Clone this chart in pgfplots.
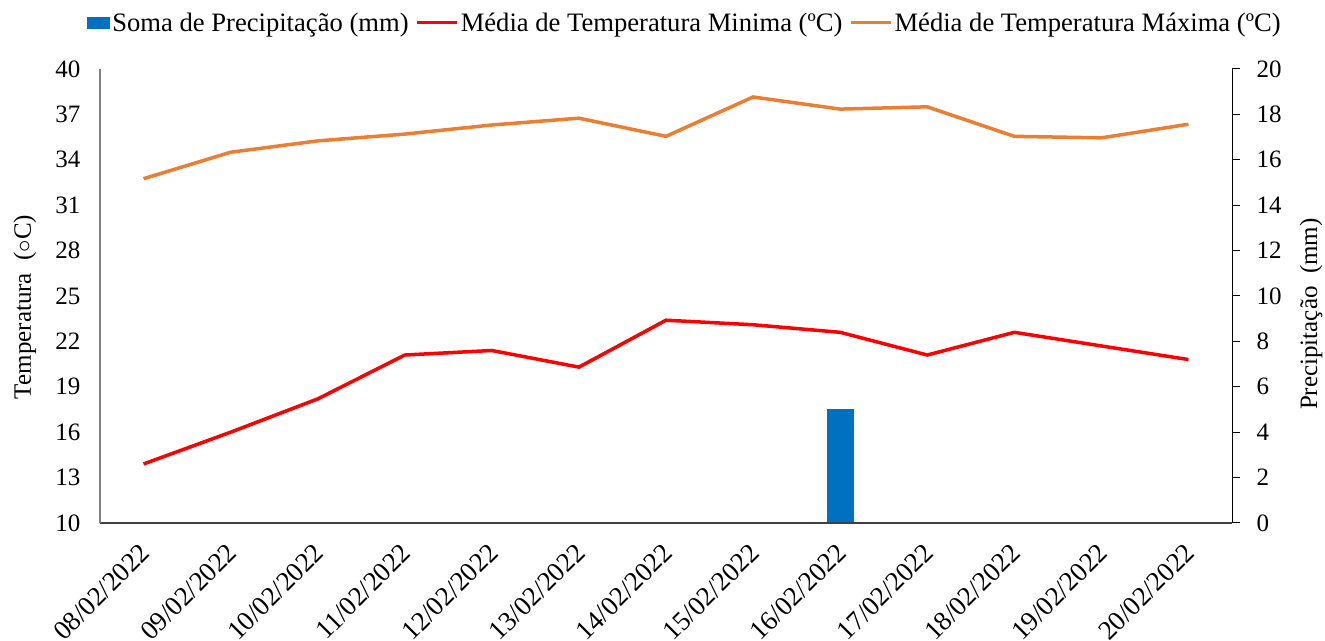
\documentclass[border=0pt]{standalone}
\usepackage{fontspec}
\setmainfont{Liberation Serif}
\usepackage{pgfplots}
\usepackage{pgfplotstable}
\pgfplotsset{compat=1.18}
\usetikzlibrary{calc}
\definecolor{cblue}{HTML}{0070C0}
\definecolor{cred}{HTML}{FF0000}
\definecolor{corange}{HTML}{ED7D31}
\definecolor{axgray}{HTML}{808080}
\definecolor{axdark}{HTML}{404040}

\pgfplotsset{
  redleg/.style={legend image code/.code={\draw[cred, line width=3.2pt] (0pt,0pt) -- (40pt,0pt);}},
  orangeleg/.style={legend image code/.code={\draw[corange, line width=3.2pt] (0pt,0pt) -- (40pt,0pt);}},
  blueleg/.style={legend image code/.code={\fill[cblue] (0pt,-6pt) rectangle (23pt,6pt);}},
}

\pgfplotstableread{
x tmin tmax
0 13.9 32.75
1 16.0 34.5
2 18.2 35.25
3 21.1 35.7
4 21.4 36.3
5 20.3 36.75
6 23.4 35.55
7 23.1 38.15
8 22.6 37.35
9 21.1 37.5
10 22.6 35.55
11 21.7 35.45
12 20.8 36.35
}\temps

\pgfplotstableread{
x prec
8 5.0
}\rain

\begin{document}
\begin{tikzpicture}[font=\fontsize{25}{30}\selectfont]
% precipitation axis (right)
\begin{axis}[
  name=ax2,
  scale only axis, width=1132pt, height=454pt,
  xmin=-0.5, xmax=12.5,
  ymin=0, ymax=20,
  ytick={0,2,...,20},
  axis y line*=right,
  axis x line=none,
  y axis line style={black, line width=1pt},
  ytick style={black, line width=1pt},
  tick align=outside,
  major tick length=8pt,
  /pgf/number format/assume math mode=true,
  yticklabel style={anchor=west, xshift=13pt},
  ylabel={Precipitação~~(mm)},
  ylabel style={at={(axis description cs:1.0698,0.46)}, anchor=center, rotate=0},
  legend columns=3,
  legend style={draw=none, fill=none, at={(0.5,1)}, anchor=south, xshift=19pt, yshift=32pt,
    font=\fontsize{26.6}{30}\selectfont,
    /tikz/every even column/.append style={column sep=5pt},
    nodes={inner xsep=2pt}},
]
\addplot[ybar, bar width=27pt, fill=cblue, draw=none, blueleg]
  table[x=x, y=prec] {\rain};
\addlegendentry{Soma de Precipitação (mm)}
\addlegendimage{redleg}
\addlegendentry{Média de Temperatura Minima (ºC)}
\addlegendimage{orangeleg}
\addlegendentry{Média de Temperatura Máxima (ºC)}
\end{axis}
% temperature axis (left)
\begin{axis}[
  name=ax1,
  scale only axis, width=1132pt, height=454pt,
  xmin=-0.5, xmax=12.5,
  ymin=10, ymax=40,
  ytick={10,13,...,40},
  axis y line*=left,
  axis x line*=bottom,
  y axis line style={axgray, line width=1.2pt},
  x axis line style={axdark, line width=1.5pt},
  major tick length=0pt,
  /pgf/number format/assume math mode=true,
  xtick={0,...,12},
  xticklabels={08/02/2022,09/02/2022,10/02/2022,11/02/2022,12/02/2022,13/02/2022,14/02/2022,15/02/2022,16/02/2022,17/02/2022,18/02/2022,19/02/2022,20/02/2022},
  xticklabel style={font=\fontsize{27}{30}\selectfont, xshift=-5pt, yshift=-14pt, rotate=45, anchor=north east},
  yticklabel style={xshift=-16pt},
  ylabel={Temperatura~~($\circ$C)},
  ylabel style={at={(axis description cs:-0.0663,0.476)}, anchor=center},
]
\addplot[cred, line width=3.5pt, no marks] table[x=x, y=tmin] {\temps};
\addplot[corange, line width=3.5pt, no marks] table[x=x, y=tmax] {\temps};
\end{axis}
\pgfresetboundingbox
\path ($(ax1.south west)+(-100pt,-118pt)$) rectangle ($(ax1.north east)+(93pt,69pt)$);
\end{tikzpicture}
\end{document}
